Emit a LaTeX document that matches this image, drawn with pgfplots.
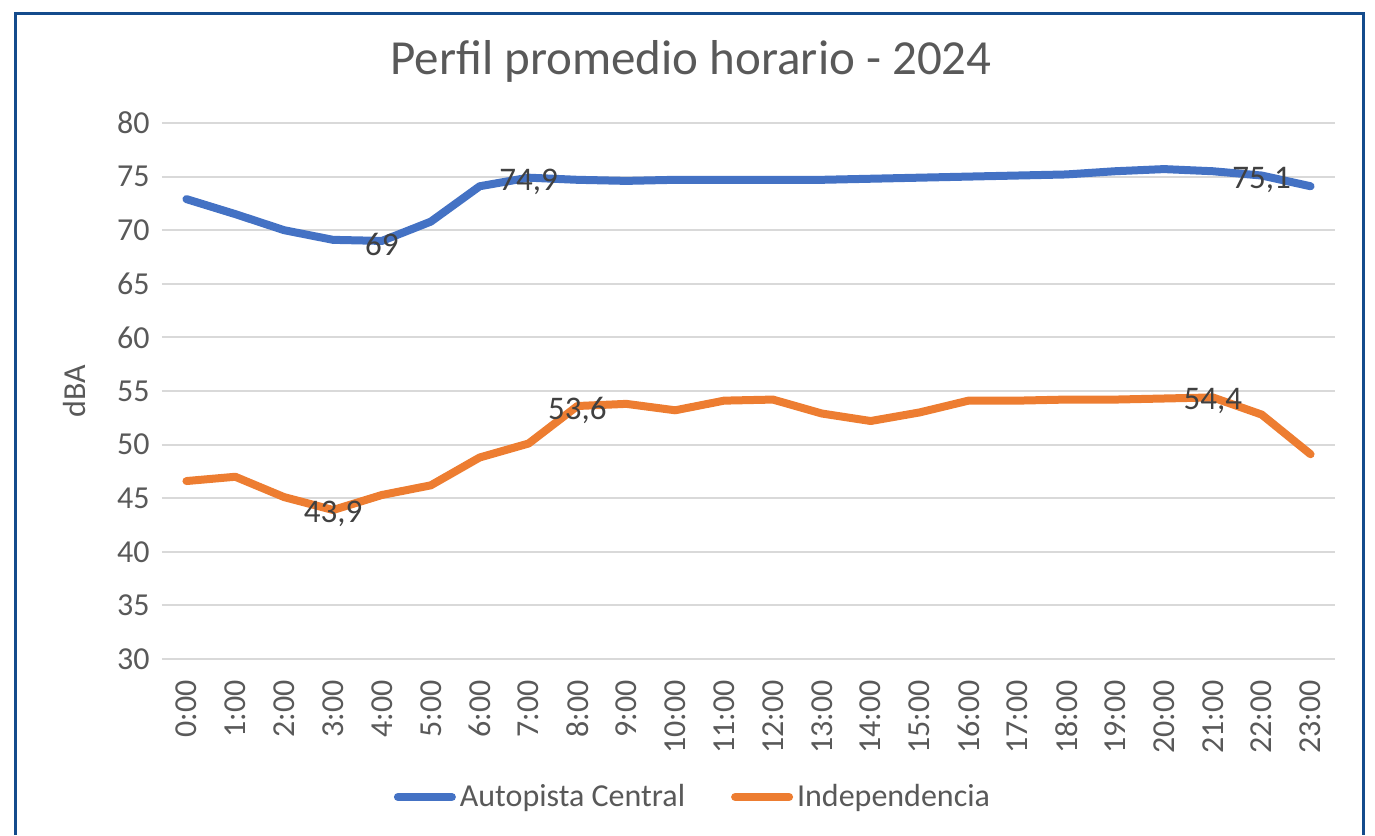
\documentclass[border=0pt]{standalone}
\usepackage{fontspec}
\setmainfont{Carlito}
\usepackage{pgfplots}
\pgfplotsset{compat=1.18}

\definecolor{serieA}{HTML}{4472C4}
\definecolor{serieB}{HTML}{ED7D31}
\definecolor{gridgray}{HTML}{D9D9D9}
\definecolor{txtgray}{HTML}{595959}
\definecolor{lblgray}{HTML}{404040}
\definecolor{framecol}{RGB}{20,75,140}

\begin{document}
\begin{tikzpicture}
\path[use as bounding box] (-81pt,-88pt) rectangle (606.5pt,329.5pt);
\begin{axis}[
  at={(0,0)}, anchor=south west,
  scale only axis,
  width=586.5pt, height=268pt,
  xmin=-0.5, xmax=23.5,
  ymin=30, ymax=80,
  xtick={0,...,23},
  xticklabels={0:00,1:00,2:00,3:00,4:00,5:00,6:00,7:00,8:00,9:00,10:00,11:00,12:00,13:00,14:00,15:00,16:00,17:00,18:00,19:00,20:00,21:00,22:00,23:00},
  ytick={30,35,...,80},
  /pgf/number format/assume math mode=true,
  tick style={draw=none},
  ymajorgrids, grid style={gridgray, line width=1pt},
  axis line style={draw=none},
  axis x line*=bottom, axis y line*=left,
  tick label style={font=\fontsize{16}{18}\selectfont, text=txtgray},
  xticklabel style={rotate=90, anchor=east, inner sep=0pt},
  xticklabel shift=10.5pt,
  yticklabel style={inner sep=0pt},
  yticklabel shift=6pt,
  ylabel={dBA},
  ylabel style={at={(axis description cs:-0.0742,0.5)}, anchor=center, font=\fontsize{16}{18}\selectfont, text=txtgray},
  title={Perfil promedio horario - 2024},
  title style={at={(axis description cs:0.451,1)}, anchor=center, yshift=25pt, font=\fontsize{24.5}{28}\selectfont, text=txtgray},
  legend style={at={(axis description cs:0.4535,0)}, anchor=center, yshift=-69pt, draw=none, fill=none,
    font=\fontsize{16}{18}\selectfont, text=txtgray, legend columns=2,
    /tikz/every even column/.append style={column sep=21pt}},
  legend image code/.code={\draw[#1] (0pt,0pt) -- (27pt,0pt);},
  legend cell align=left,
  clip=false,
]
\draw[gridgray, line width=1pt] (axis cs:-0.5,30) -- (axis cs:23.5,30);

\addplot[serieA, line width=4pt, line cap=round, line join=round] coordinates {
(0,72.9) (1,71.5) (2,70.0) (3,69.1) (4,69.0) (5,70.8) (6,74.1) (7,74.9)
(8,74.7) (9,74.6) (10,74.7) (11,74.7) (12,74.7) (13,74.7) (14,74.8) (15,74.9)
(16,75.0) (17,75.1) (18,75.2) (19,75.5) (20,75.7) (21,75.5) (22,75.1) (23,74.1)};
\addlegendentry{Autopista Central}

\addplot[serieB, line width=4pt, line cap=round, line join=round] coordinates {
(0,46.6) (1,47.0) (2,45.1) (3,43.9) (4,45.3) (5,46.2) (6,48.8) (7,50.1)
(8,53.6) (9,53.8) (10,53.2) (11,54.1) (12,54.2) (13,52.9) (14,52.2) (15,53.0)
(16,54.1) (17,54.1) (18,54.2) (19,54.2) (20,54.3) (21,54.4) (22,52.8) (23,49.1)};
\addlegendentry{Independencia}

\addplot[draw=none, mark=none, forget plot, nodes near coords, point meta=explicit symbolic,
  nodes near coords style={anchor=center, yshift=-2pt, font=\fontsize{16.5}{18}\selectfont, text=lblgray}]
  coordinates {(4,69.0) [69] (7,74.9) [{74,9}] (22,75.1) [{75,1}]
               (3,43.9) [{43,9}] (8,53.6) [{53,6}] (21,54.4) [{54,4}]};
\end{axis}
\draw[framecol, line width=1.5pt] (-73pt,-88pt) -- (-73pt,322.5pt) -- (600.5pt,322.5pt) -- (600.5pt,-88pt);
\end{tikzpicture}
\end{document}
